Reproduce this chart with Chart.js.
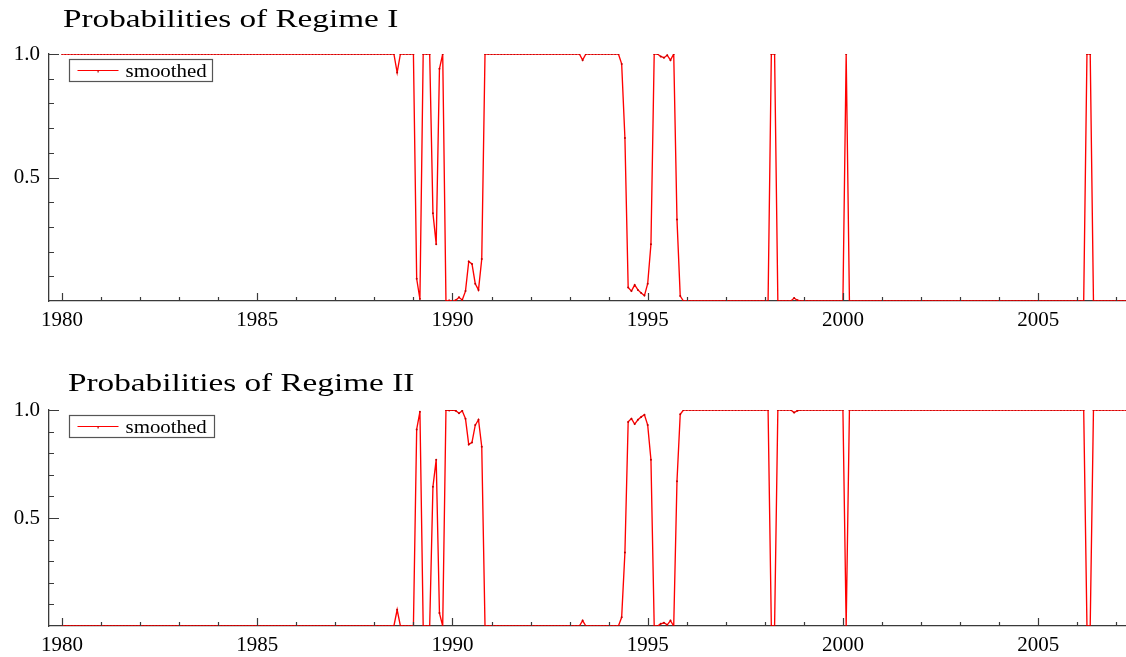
<!DOCTYPE html>
<html>
<head>
<meta charset="utf-8">
<script src="https://cdn.jsdelivr.net/npm/chart.js@4.4.1/dist/chart.umd.min.js"></script>
<style>
  html, body { margin: 0; padding: 0; background: #fff; }
  canvas { display: block; }
</style>
</head>
<body>
<canvas id="regime1" width="1126" height="330"></canvas>
<canvas id="regime2" width="1126" height="327"></canvas>
<script>
// Smoothed regime probabilities, monthly 1980(1) - 2007(4)
const startYear = 1980

const regimeI = [
  1, 1, 1, 1, 1, 1, 1, 1, 1, 1, 1, 1,                                  // 1980
  1, 1, 1, 1, 1, 1, 1, 1, 1, 1, 1, 1,                                  // 1981
  1, 1, 1, 1, 1, 1, 1, 1, 1, 1, 1, 1,                                  // 1982
  1, 1, 1, 1, 1, 1, 1, 1, 1, 1, 1, 1,                                  // 1983
  1, 1, 1, 1, 1, 1, 1, 1, 1, 1, 1, 1,                                  // 1984
  1, 1, 1, 1, 1, 1, 1, 1, 1, 1, 1, 1,                                  // 1985
  1, 1, 1, 1, 1, 1, 1, 1, 1, 1, 1, 1,                                  // 1986
  1, 1, 1, 1, 1, 1, 1, 1, 1, 1, 1, 1,                                  // 1987
  1, 1, 1, 1, 1, 1, 1, 0.925, 1, 1, 1, 1,                              // 1988
  1, 0.09, 0.008, 1, 1, 1, 0.355, 0.23, 0.94, 1, 0, 0.002,             // 1989
  0, 0.003, 0.015, 0.004, 0.04, 0.16, 0.15, 0.07, 0.045, 0.17, 1, 1,   // 1990
  1, 1, 1, 1, 1, 1, 1, 1, 1, 1, 1, 1,                                  // 1991
  1, 1, 1, 1, 1, 1, 1, 1, 1, 1, 1, 1,                                  // 1992
  1, 1, 1, 1, 0.975, 1, 1, 1, 1, 1, 1, 1,                              // 1993
  1, 1, 1, 1, 0.96, 0.66, 0.055, 0.04, 0.065, 0.045, 0.032, 0.022,     // 1994
  0.07, 0.23, 1, 1, 0.99, 0.985, 0.995, 0.975, 1, 0.33, 0.02, 0,       // 1995
  0, 0, 0, 0, 0, 0, 0, 0, 0, 0, 0, 0,                                  // 1996
  0, 0, 0, 0, 0, 0, 0, 0, 0, 0, 0, 0,                                  // 1997
  0, 0, 1, 1, 0, 0, 0, 0, 0, 0.012, 0.003, 0,                          // 1998
  0, 0, 0, 0, 0, 0, 0, 0, 0, 0, 0, 0,                                  // 1999
  0, 1, 0, 0, 0, 0, 0, 0, 0, 0, 0, 0,                                  // 2000
  0, 0, 0, 0, 0, 0, 0, 0, 0, 0, 0, 0,                                  // 2001
  0, 0, 0, 0, 0, 0, 0, 0, 0, 0, 0, 0,                                  // 2002
  0, 0, 0, 0, 0, 0, 0, 0, 0, 0, 0, 0,                                  // 2003
  0, 0, 0, 0, 0, 0, 0, 0, 0, 0, 0, 0,                                  // 2004
  0, 0, 0, 0, 0, 0, 0, 0, 0, 0, 0, 0,                                  // 2005
  0, 0, 0, 1, 1, 0, 0, 0, 0, 0, 0, 0,                                  // 2006
  0, 0, 0, 0                                                           // 2007
]

const regimeII = [
  0, 0, 0, 0, 0, 0, 0, 0, 0, 0, 0, 0,                                  // 1980
  0, 0, 0, 0, 0, 0, 0, 0, 0, 0, 0, 0,                                  // 1981
  0, 0, 0, 0, 0, 0, 0, 0, 0, 0, 0, 0,                                  // 1982
  0, 0, 0, 0, 0, 0, 0, 0, 0, 0, 0, 0,                                  // 1983
  0, 0, 0, 0, 0, 0, 0, 0, 0, 0, 0, 0,                                  // 1984
  0, 0, 0, 0, 0, 0, 0, 0, 0, 0, 0, 0,                                  // 1985
  0, 0, 0, 0, 0, 0, 0, 0, 0, 0, 0, 0,                                  // 1986
  0, 0, 0, 0, 0, 0, 0, 0, 0, 0, 0, 0,                                  // 1987
  0, 0, 0, 0, 0, 0, 0, 0.075, 0, 0, 0, 0,                              // 1988
  0, 0.91, 0.992, 0, 0, 0, 0.645, 0.77, 0.06, 0, 1, 0.998,             // 1989
  1, 0.997, 0.985, 0.996, 0.96, 0.84, 0.85, 0.93, 0.955, 0.83, 0, 0,   // 1990
  0, 0, 0, 0, 0, 0, 0, 0, 0, 0, 0, 0,                                  // 1991
  0, 0, 0, 0, 0, 0, 0, 0, 0, 0, 0, 0,                                  // 1992
  0, 0, 0, 0, 0.025, 0, 0, 0, 0, 0, 0, 0,                              // 1993
  0, 0, 0, 0, 0.04, 0.34, 0.945, 0.96, 0.935, 0.955, 0.968, 0.978,     // 1994
  0.93, 0.77, 0, 0, 0.01, 0.015, 0.005, 0.025, 0, 0.67, 0.98, 1,       // 1995
  1, 1, 1, 1, 1, 1, 1, 1, 1, 1, 1, 1,                                  // 1996
  1, 1, 1, 1, 1, 1, 1, 1, 1, 1, 1, 1,                                  // 1997
  1, 1, 0, 0, 1, 1, 1, 1, 1, 0.988, 0.997, 1,                          // 1998
  1, 1, 1, 1, 1, 1, 1, 1, 1, 1, 1, 1,                                  // 1999
  1, 0, 1, 1, 1, 1, 1, 1, 1, 1, 1, 1,                                  // 2000
  1, 1, 1, 1, 1, 1, 1, 1, 1, 1, 1, 1,                                  // 2001
  1, 1, 1, 1, 1, 1, 1, 1, 1, 1, 1, 1,                                  // 2002
  1, 1, 1, 1, 1, 1, 1, 1, 1, 1, 1, 1,                                  // 2003
  1, 1, 1, 1, 1, 1, 1, 1, 1, 1, 1, 1,                                  // 2004
  1, 1, 1, 1, 1, 1, 1, 1, 1, 1, 1, 1,                                  // 2005
  1, 1, 1, 0, 0, 1, 1, 1, 1, 1, 1, 1,                                  // 2006
  1, 1, 1, 1                                                           // 2007
]

// axis ticks
const yearTicks = [1980, 1981, 1982, 1983, 1984, 1985, 1986, 1987, 1988, 1989,
  1990, 1991, 1992, 1993, 1994, 1995, 1996, 1997, 1998, 1999,
  2000, 2001, 2002, 2003, 2004, 2005, 2006, 2007]
const yearLabels = [1980, 1985, 1990, 1995, 2000, 2005]
const probTicks = [0.1, 0.2, 0.3, 0.4, 0.5, 0.6, 0.7, 0.8, 0.9, 1.0]
const probLabels = [0.5, 1.0]

const seriesLabel = "smoothed"
const lineRed = "#ff0000"
const axisColor = "#3a3a3a"
const serif = "'Liberation Serif', 'Times New Roman', serif"

// decimal year of each monthly observation
const months = regimeI.map((_, i) => startYear + i / 12)

// inward tick marks, stretched title and the boxed legend
const panelDecor = {
  id: "panelDecor",
  afterDraw(chart, args, opts) {
    const { ctx, chartArea, scales } = chart
    ctx.save()

    ctx.strokeStyle = axisColor
    ctx.lineWidth = 1.2
    ctx.beginPath()
    yearTicks.forEach((yr) => {
      const x = Math.round(scales.x.getPixelForValue(yr)) + 0.5
      const len = yr % 5 === 0 ? 8 : 4
      ctx.moveTo(x, chartArea.bottom)
      ctx.lineTo(x, chartArea.bottom - len)
    })
    probTicks.forEach((p) => {
      const y = Math.round(scales.y.getPixelForValue(p)) + 0.5
      const len = probLabels.includes(p) ? 10 : 5
      ctx.moveTo(chartArea.left, y)
      ctx.lineTo(chartArea.left + len, y)
    })
    ctx.stroke()

    // panel title
    ctx.fillStyle = "#000"
    ctx.font = "25px " + serif
    ctx.textBaseline = "alphabetic"
    ctx.save()
    ctx.translate(opts.titleX, opts.titleY)
    ctx.scale(1.33, 1)
    ctx.fillText(opts.title, 0, 0)
    ctx.restore()

    // legend box
    const bx = chartArea.left + 20.5
    const by = chartArea.top + 5.5
    ctx.fillStyle = "#fff"
    ctx.fillRect(bx, by, opts.legendW, 22)
    ctx.strokeStyle = "#555"
    ctx.lineWidth = 1.2
    ctx.strokeRect(bx, by, opts.legendW, 22)

    const ly = by + 11
    ctx.strokeStyle = lineRed
    ctx.lineWidth = 1.2
    ctx.beginPath()
    ctx.moveTo(bx + 8, ly)
    ctx.lineTo(bx + 49, ly)
    ctx.stroke()
    ctx.fillStyle = "#b00000"
    ctx.fillRect(bx + 28, ly, 1.2, 2)

    ctx.fillStyle = "#000"
    ctx.font = "19px " + serif
    ctx.save()
    ctx.translate(bx + 56, by + 17.5)
    ctx.scale(1.1, 1)
    ctx.fillText(chart.data.datasets[0].label, 0, 0)
    ctx.restore()

    ctx.restore()
  }
}

function makePanel(canvasId, values, decor, axisHeight, padTop) {
  return new Chart(document.getElementById(canvasId), {
    type: "line",
    data: {
      labels: months,
      datasets: [{
        label: seriesLabel,
        data: values,
        borderColor: lineRed,
        borderWidth: 1.35,
        pointRadius: 1,
        pointBackgroundColor: "#c00000",
        pointBorderWidth: 0,
        tension: 0,
        fill: false,
      }],
    },
    options: {
      responsive: false,
      animation: false,
      layout: { padding: { top: padTop, left: 0, right: 0, bottom: 0 }, autoPadding: false },
      plugins: {
        legend: { display: false },
        title: { display: false },
        tooltip: { enabled: false },
        panelDecor: decor,
      },
      scales: {
        x: {
          type: "linear",
          min: startYear - 4 / 12,
          max: months[months.length - 1],
          grid: { display: false, drawTicks: false },
          border: { display: true, color: axisColor, width: 1.3 },
          afterBuildTicks: (scale) => { scale.ticks = yearLabels.map((v) => ({ value: v })) },
          afterFit: (scale) => { scale.height = axisHeight },
          ticks: {
            autoSkip: false,
            maxRotation: 0,
            padding: 7,
            color: "#000",
            font: { family: serif, size: 21 },
            callback: (v) => String(v),
          },
        },
        y: {
          min: 0,
          max: 1,
          grid: { display: false, drawTicks: false },
          border: { display: true, color: axisColor, width: 1.3 },
          afterBuildTicks: (scale) => { scale.ticks = probLabels.map((v) => ({ value: v })) },
          afterFit: (scale) => { scale.width = 49 },
          ticks: {
            padding: 9,
            color: "#000",
            font: { family: serif, size: 21 },
            callback: (v) => Number(v).toFixed(1),
          },
        },
      },
    },
    plugins: [panelDecor],
  })
}

makePanel("regime1", regimeI,
  { title: "Probabilities of Regime I", titleX: 63, titleY: 27, legendW: 143 }, 29, 54)
makePanel("regime2", regimeII,
  { title: "Probabilities of Regime II", titleX: 68, titleY: 61, legendW: 145 }, 31, 80)
</script>
</body>
</html>
